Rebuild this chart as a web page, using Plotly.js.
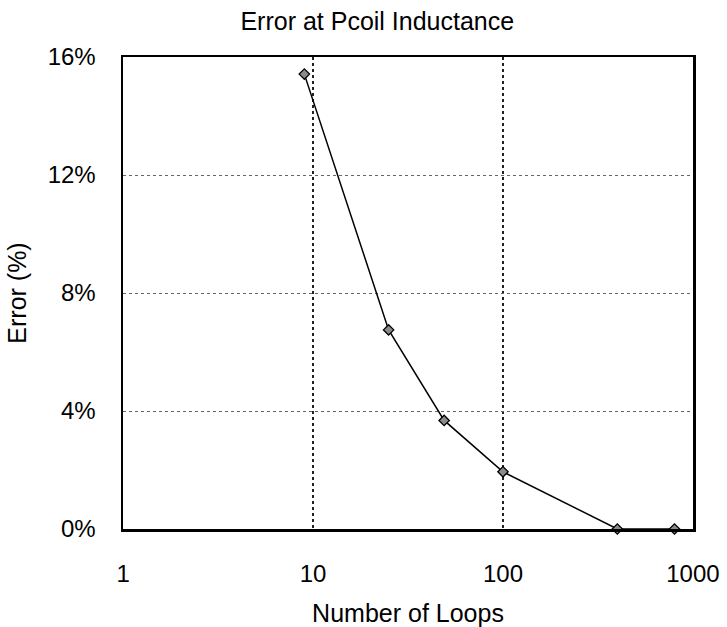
<!DOCTYPE html>
<html>
<head>
<meta charset="utf-8">
<script src="https://cdn.plot.ly/plotly-3.0.1.min.js"></script>
<style>html,body{margin:0;padding:0;background:#fff;}#chart{width:727px;height:627px;}</style>
</head>
<body>
<div id="chart"></div>
<script>
const loops = [9, 25, 49, 100, 400, 800];
const errorPct = [15.42, 6.75, 3.68, 1.94, 0, 0];
const xTickVals = [1, 10, 100, 1000];
const xTickText = ['1', '10', '100', '1000'];
const yTickVals = [0, 4, 8, 12, 16];
const yTickText = ['0%', '4%', '8%', '12%', '16%'];

const trace = {
  x: loops, y: errorPct, type: 'scatter', mode: 'lines+markers',
  line: {color: '#000', width: 1.5},
  marker: {symbol: 'diamond', size: 8, color: '#8a8a8a', line: {color: '#000', width: 1.3}},
  cliponaxis: false, showlegend: false
};
const fam = 'Arial, "Liberation Sans", sans-serif';
const layout = {
  width: 727, height: 627,
  margin: {l: 123, r: 34, t: 57, b: 98},
  paper_bgcolor: '#fff', plot_bgcolor: '#fff',
  font: {family: fam, color: '#000'},
  title: {text: 'Error at Pcoil Inductance', font: {size: 25, family: fam, color: '#000'},
          xref: 'container', x: 0.519, xanchor: 'center', yref: 'container', y: 0.966, yanchor: 'middle'},
  xaxis: {
    type: 'log', range: [-0.0005, 3.0005], tickvals: xTickVals, ticktext: xTickText,
    tickfont: {size: 24}, ticks: '', ticklabelstandoff: 22,
    showgrid: true, gridcolor: '#222', griddash: 'dot', gridwidth: 1.2,
    showline: true, linecolor: '#000', linewidth: 2.5, mirror: true, zeroline: false,
    title: {text: 'Number of Loops', font: {size: 25}, standoff: 18}
  },
  yaxis: {
    range: [0, 16], tickvals: yTickVals, ticktext: yTickText,
    tickfont: {size: 24}, ticks: '', ticklabelstandoff: 20,
    showgrid: true, gridcolor: '#666', griddash: 'dot', gridwidth: 1,
    showline: true, linecolor: '#000', linewidth: 2.5, mirror: true, zeroline: false,
    title: {text: 'Error (%)', font: {size: 25}, standoff: 14}
  }
};
Plotly.newPlot('chart', [trace], layout, {displayModeBar: false, staticPlot: true});
</script>
</body>
</html>
